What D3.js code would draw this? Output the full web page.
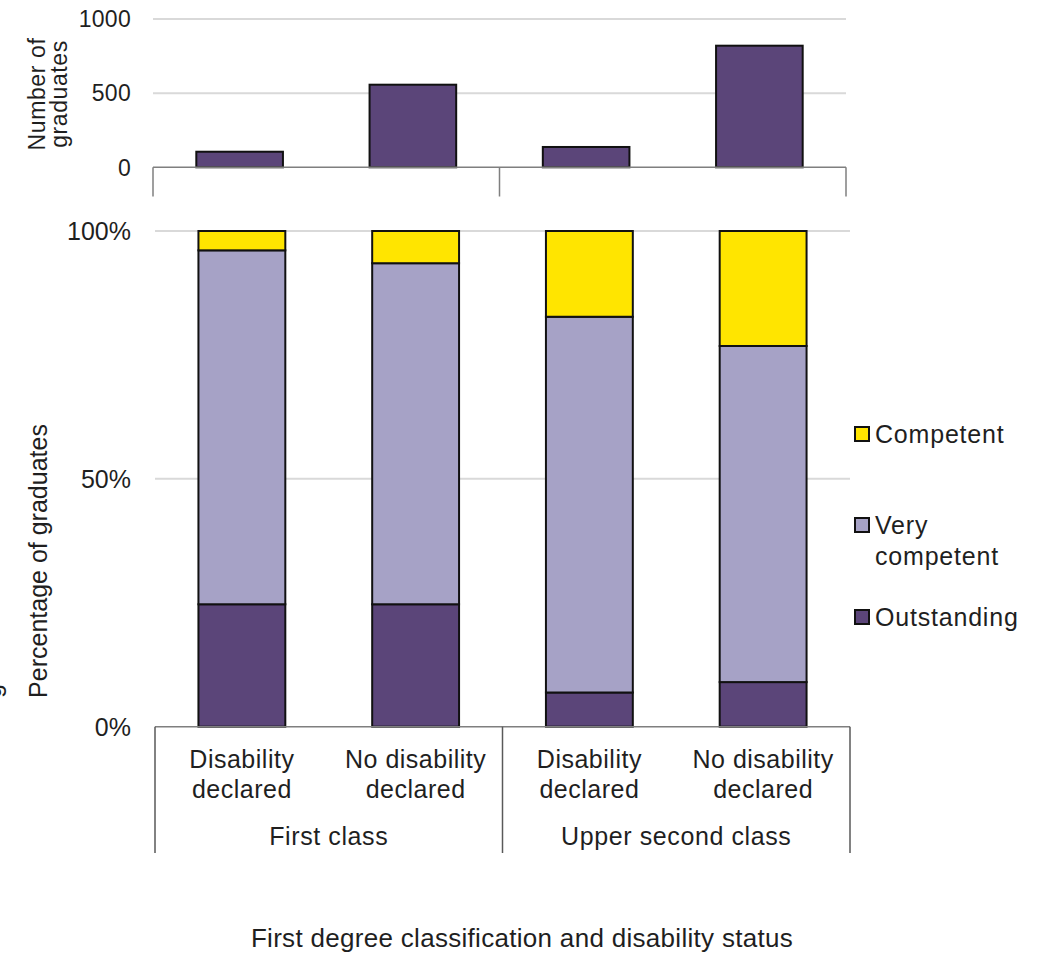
<!DOCTYPE html>
<html><head><meta charset="utf-8">
<script src="https://cdn.jsdelivr.net/npm/d3@7"></script>
<style>
body{margin:0;background:#fff}
svg{display:block}
text{font-family:"Liberation Sans",Arial,sans-serif;fill:#1f1f1f}
</style>
</head><body>
<svg id="c" width="1039" height="953"></svg>
<script>
// ---------- data ----------
const groupLabels = ["First class", "Upper second class"];
const categoryLines = [["Disability","declared"],["No disability","declared"],["Disability","declared"],["No disability","declared"]];
const categoryGroup = [0, 0, 1, 1];
const graduateCounts = [105, 557, 137, 820];
const seriesNames = ["Outstanding", "Very competent", "Competent"];
const outstanding = [24.7, 24.7, 6.9, 9.0];
const veryCompetent = [71.4, 68.8, 75.8, 67.8];
const competent = [3.9, 6.5, 17.3, 23.2];
const countTicks = [0, 500, 1000];
const pctTicks = [0, 50, 100];
const legendOrder = ["Competent", "Very competent", "Outstanding"];
const legendLines = {"Competent":["Competent"], "Very competent":["Very","competent"], "Outstanding":["Outstanding"]};

// ---------- styles ----------
const colors = {"Outstanding":"#5b4579", "Very competent":"#a6a2c6", "Competent":"#ffe500"};
const gridColor = "#d9d9d9", axisColor = "#7f7f7f", barStroke = "#111";

const svg = d3.select("#c");
const idx = d3.range(categoryLines.length);

// ---------- top chart ----------
const xTop = d3.scaleBand().domain(idx).range([153, 846]).paddingInner(0.5).paddingOuter(0.25);
const yTop = d3.scaleLinear().domain([0, 1000]).range([167.3, 19]);
const topG = svg.append("g");

topG.selectAll("line.grid").data(countTicks.filter(d => d > 0)).join("line")
  .attr("x1", 153).attr("x2", 846)
  .attr("y1", d => yTop(d)).attr("y2", d => yTop(d))
  .attr("stroke", gridColor).attr("stroke-width", 2);

topG.selectAll("rect").data(idx).join("rect")
  .attr("x", i => xTop(i)).attr("width", xTop.bandwidth())
  .attr("y", i => yTop(graduateCounts[i])).attr("height", i => yTop(0) - yTop(graduateCounts[i]))
  .attr("fill", colors["Outstanding"]).attr("stroke", barStroke).attr("stroke-width", 2);

topG.append("line").attr("x1", 153).attr("x2", 846).attr("y1", yTop(0)).attr("y2", yTop(0))
  .attr("stroke", axisColor).attr("stroke-width", 1.5);

function boundaries(x) {
  const half = x.step() * x.paddingInner() / 2;
  const b = [x.range()[0]];
  for (let i = 1; i < idx.length; i++) if (categoryGroup[i] !== categoryGroup[i-1]) b.push(x(i) - half);
  b.push(x.range()[1]);
  return b;
}
topG.selectAll("line.sep").data(boundaries(xTop)).join("line")
  .attr("x1", d => d).attr("x2", d => d).attr("y1", yTop(0)).attr("y2", 196.5)
  .attr("stroke", axisColor).attr("stroke-width", 1.5);

topG.selectAll("text.tick").data(countTicks).join("text")
  .attr("x", 131).attr("y", d => yTop(d)).attr("dy", "0.36em")
  .attr("text-anchor", "end").attr("font-size", 23).attr("letter-spacing", 0.3)
  .text(d => d);

const topTitle = topG.append("text").attr("transform", "translate(45,94) rotate(-90)")
  .attr("text-anchor", "middle").attr("font-size", 23).attr("letter-spacing", 0.6);
topTitle.append("tspan").attr("x", 0).attr("dy", 0).text("Number of");
topTitle.append("tspan").attr("x", 0).attr("dy", 22).text("graduates");

// ---------- bottom chart ----------
const xBot = d3.scaleBand().domain(idx).range([155, 850]).paddingInner(0.5).paddingOuter(0.25);
const yBot = d3.scaleLinear().domain([0, 100]).range([726.7, 231]);
const bot = svg.append("g");

bot.selectAll("line.grid").data(pctTicks.filter(d => d > 0)).join("line")
  .attr("x1", 155).attr("x2", 850)
  .attr("y1", d => yBot(d)).attr("y2", d => yBot(d))
  .attr("stroke", gridColor).attr("stroke-width", 2);

const table = idx.map(i => ({i, "Outstanding": outstanding[i], "Very competent": veryCompetent[i], "Competent": competent[i]}));
const stacked = d3.stack().keys(seriesNames)(table);

bot.selectAll("g.series").data(stacked).join("g")
  .attr("fill", s => colors[s.key])
  .selectAll("rect").data(s => s).join("rect")
  .attr("x", d => xBot(d.data.i)).attr("width", xBot.bandwidth())
  .attr("y", d => yBot(d[1])).attr("height", d => yBot(d[0]) - yBot(d[1]))
  .attr("stroke", barStroke).attr("stroke-width", 2);

bot.append("line").attr("x1", 155).attr("x2", 850).attr("y1", yBot(0)).attr("y2", yBot(0))
  .attr("stroke", axisColor).attr("stroke-width", 1.5);

bot.selectAll("line.sep").data(boundaries(xBot)).join("line")
  .attr("x1", d => d).attr("x2", d => d).attr("y1", yBot(0)).attr("y2", 853)
  .attr("stroke", "#595959").attr("stroke-width", 1.5);

bot.selectAll("text.tick").data(pctTicks).join("text")
  .attr("x", 131).attr("y", d => yBot(d)).attr("dy", "0.36em")
  .attr("text-anchor", "end").attr("font-size", 25)
  .text(d => d + "%");

// category labels
const catText = bot.selectAll("text.cat").data(idx).join("text")
  .attr("text-anchor", "middle").attr("font-size", 25).attr("letter-spacing", 0.5);
catText.each(function(i) {
  const t = d3.select(this);
  categoryLines[i].forEach((ln, k) => {
    t.append("tspan").attr("x", xBot(i) + xBot.bandwidth() / 2).attr("y", 768 + k * 30).text(ln);
  });
});

// group labels
const bnd = boundaries(xBot);
bot.selectAll("text.grp").data(groupLabels).join("text")
  .attr("x", (d, g) => (bnd[g] + bnd[g + 1]) / 2).attr("y", 845)
  .attr("text-anchor", "middle").attr("font-size", 25).attr("letter-spacing", 0.6)
  .text(d => d);

// y title
bot.append("text").attr("transform", "translate(47,561) rotate(-90)")
  .attr("text-anchor", "middle").attr("font-size", 25)
  .text("Percentage of graduates");

// clipped fragment at the left edge (cut off in the reference too)
bot.append("text").attr("transform", "translate(1,691) rotate(-90)")
  .attr("text-anchor", "middle").attr("font-size", 25).text("g");

// x title
svg.append("text").attr("x", 522).attr("y", 947).attr("text-anchor", "middle")
  .attr("font-size", 26).attr("letter-spacing", 0.3)
  .text("First degree classification and disability status");

// legend
const legendY = {"Competent": 434, "Very competent": 525, "Outstanding": 617};
const leg = svg.append("g");
legendOrder.forEach(name => {
  const y = legendY[name];
  leg.append("rect").attr("x", 855).attr("y", y - 7).attr("width", 14).attr("height", 14)
    .attr("fill", colors[name]).attr("stroke", barStroke).attr("stroke-width", 2);
  const t = leg.append("text").attr("font-size", 25).attr("letter-spacing", 0.8);
  legendLines[name].forEach((ln, k) => {
    t.append("tspan").attr("x", 875).attr("y", y + 9 + k * 31).text(ln);
  });
});
</script>
</body></html>
